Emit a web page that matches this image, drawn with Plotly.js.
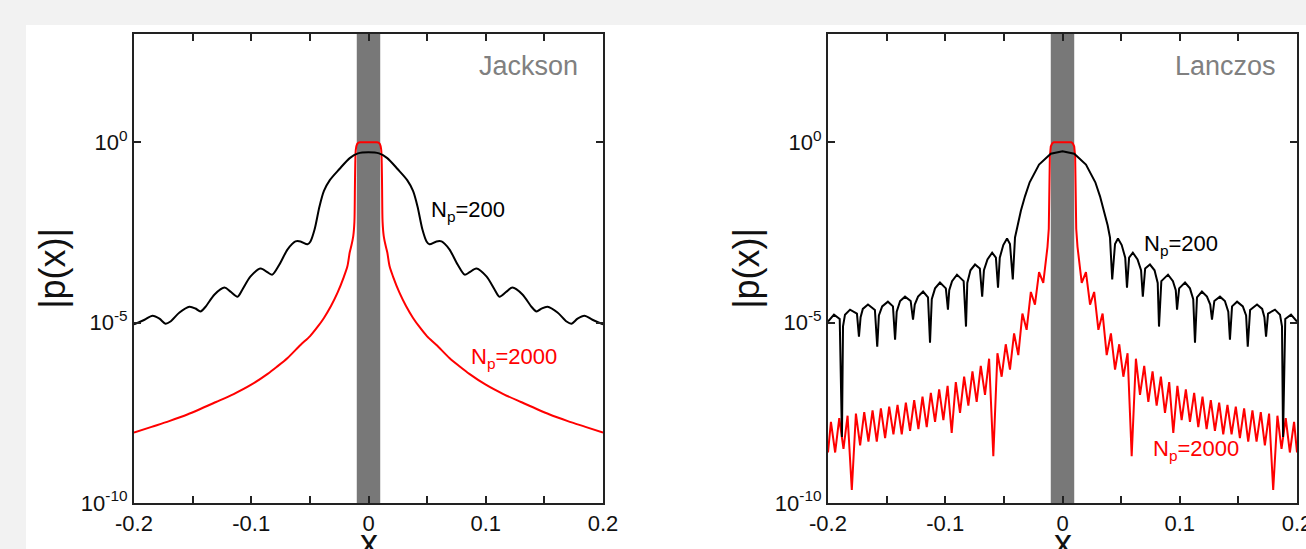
<!DOCTYPE html>
<html><head><meta charset="utf-8">
<script src="https://cdn.plot.ly/plotly-3.0.1.min.js"></script>
<style>
html,body{margin:0;padding:0;background:#f2f2f2;width:1306px;height:549px;overflow:hidden;}
#plot{position:absolute;left:26px;top:25px;width:1280px;height:524px;background:#fff;}
</style></head>
<body><div id="plot"></div>
<script>
// ---- data (right half, x >= 0; curves are symmetric about x = 0), values are log10 |p(x)|
const jacksonX200 = [0, 0.009, 0.016, 0.025, 0.033, 0.038, 0.0418, 0.046, 0.0495, 0.052, 0.058, 0.0623, 0.069, 0.076, 0.082, 0.086, 0.092, 0.1006, 0.1075, 0.1117, 0.1177, 0.1228, 0.1313, 0.139, 0.1433, 0.1475, 0.1527, 0.1612, 0.1689, 0.1731, 0.1783, 0.1842, 0.191, 0.2];
const jacksonLog200 = [-0.28, -0.31, -0.44, -0.75, -1.05, -1.35, -1.78, -2.42, -2.75, -2.83, -2.75, -2.75, -2.97, -3.39, -3.67, -3.61, -3.5, -3.72, -4.08, -4.28, -4.14, -4.03, -4.22, -4.56, -4.69, -4.61, -4.56, -4.72, -4.97, -5.03, -4.89, -4.81, -4.92, -5.05];

const jacksonX2000 = [0, 0.007, 0.0085, 0.0097, 0.0108, 0.0113, 0.0116, 0.012, 0.013, 0.0145, 0.016, 0.018, 0.021, 0.0264, 0.032, 0.038, 0.0435, 0.05, 0.058, 0.069, 0.078, 0.086, 0.1, 0.115, 0.13, 0.154, 0.17, 0.185, 0.2];
const jacksonLog2000 = [0, 0, -0.01, -0.05, -0.2, -0.6, -1.3, -2.2, -2.6, -2.85, -3.05, -3.44, -3.73, -4.17, -4.54, -4.87, -5.12, -5.38, -5.62, -5.98, -6.22, -6.42, -6.72, -6.98, -7.2, -7.54, -7.73, -7.89, -8.05];

const lanczosX200 = [0, 0.01, 0.02, 0.028, 0.032, 0.0355, 0.0385, 0.0405, 0.0424,
  0.0448, 0.0473, 0.0505, 0.0535, 0.055,
  0.0568, 0.06, 0.064, 0.067, 0.0685,
  0.0705, 0.0746, 0.0785, 0.0812, 0.0823,
  0.0843, 0.09, 0.0942, 0.0966, 0.0977,
  0.0995, 0.1045, 0.1087, 0.1115, 0.113,
  0.1147, 0.1189, 0.1232, 0.126, 0.1275,
  0.1295, 0.1343, 0.1385, 0.1414, 0.1428,
  0.1446, 0.1489, 0.1538, 0.1566, 0.158,
  0.16, 0.1659, 0.1703, 0.1722, 0.1736,
  0.1753, 0.1812, 0.1855, 0.1872, 0.1881,
  0.19, 0.1949, 0.2];
const lanczosLog200 = [-0.25, -0.32, -0.62, -1.11, -1.5, -1.9, -2.3, -2.64, -3.8,
  -2.82, -2.67, -2.85, -3.2, -4.03,
  -3.2, -3.06, -3.25, -3.55, -4.28,
  -3.5, -3.39, -3.55, -3.9, -5.11,
  -3.85, -3.67, -3.85, -4.1, -4.64,
  -4.05, -3.89, -4.05, -4.35, -5.56,
  -4.3, -4.14, -4.28, -4.5, -4.92,
  -4.4, -4.28, -4.4, -4.7, -5.47,
  -4.55, -4.42, -4.55, -4.8, -5.67,
  -4.65, -4.5, -4.62, -4.85, -5.39,
  -4.75, -4.64, -4.78, -5.1, -8.17,
  -4.9, -4.78, -4.97];

const lanczosX2000 = [0, 0.0075, 0.0088, 0.01, 0.0108, 0.0112, 0.0117, 0.0128,
  0.0164, 0.02, 0.0235, 0.027, 0.0306, 0.0342, 0.0377, 0.0413, 0.0448, 0.0484, 0.0519, 0.0555,
  0.059, 0.0626, 0.0661, 0.0697, 0.0732, 0.0768, 0.0803, 0.0839, 0.0874, 0.091,
  0.0945, 0.098, 0.1016, 0.1052, 0.1087, 0.1123, 0.1158, 0.1194, 0.1229, 0.1265,
  0.13, 0.1336, 0.1371, 0.1407, 0.1442, 0.1478, 0.1513, 0.1549, 0.1584, 0.162,
  0.1655, 0.1691, 0.1726, 0.1762, 0.1797, 0.1833, 0.1868, 0.1904, 0.1939, 0.1975, 0.2];
const lanczosLog2000 = [0, 0, -0.03, -0.12, -0.4, -1.2, -2.4, -2.9,
  -3.9, -3.6, -4.5, -4.15, -5.2, -4.75, -5.9, -5.3, -6.3, -5.6, -6.5, -5.85,
  -8.7, -6.0, -7.0, -6.2, -7.2, -6.35, -7.3, -6.5, -7.5, -6.65,
  -8.06, -6.75, -7.7, -6.85, -7.75, -6.95, -7.9, -7.05, -7.95, -7.15,
  -8.0, -7.22, -8.1, -7.28, -8.1, -7.33, -8.2, -7.38, -8.3, -7.43,
  -8.3, -7.48, -8.4, -7.52, -9.64, -7.58, -8.5, -7.65, -8.6, -7.75, -8.6];

const xTickVals = [-0.2, -0.1, 0, 0.1, 0.2];
const xTickText = ['-0.2', '-0.1', '0', '0.1', '0.2'];
const xMinorStep = 0.05;
const yTickVals = [1e-10, 1e-5, 1];
const yTickText = ['10<sup>-10</sup>', '10<sup>-5</sup>', '10<sup>0</sup>'];
const windowHalfWidth = 0.01;
const panelNames = ['Jackson', 'Lanczos'];
const labelSmall = 'N<sub>p</sub>=200';
const labelLarge = 'N<sub>p</sub>=2000';
const xTitle = 'x';
const yTitle = '|p(x)|';

// ---- build symmetric curves from the half-data
function mirrorX(h){ return h.slice(1).reverse().map(v => -v).concat(h); }
function mirrorY(h){ return h.slice(1).reverse().concat(h).map(v => Math.pow(10, v)); }

const FONT = 'Liberation Sans, Arial, Helvetica, sans-serif';
const AX = '#222';

function tr(xh, yh, color, xa, ya, shape){
  return {x: mirrorX(xh), y: mirrorY(yh), type:'scatter', mode:'lines',
    line:{color:color, width:2, shape:shape, smoothing:0.8}, xaxis:xa, yaxis:ya, hoverinfo:'skip'};
}
const data = [
  tr(jacksonX2000, jacksonLog2000, '#ff0000', 'x', 'y', 'spline'),
  tr(jacksonX200, jacksonLog200, '#000000', 'x', 'y', 'spline'),
  tr(lanczosX2000, lanczosLog2000, '#ff0000', 'x2', 'y2', 'linear'),
  tr(lanczosX200, lanczosLog200, '#000000', 'x2', 'y2', 'linear')
];

function xax(domain, anchor){
  return {domain:domain, anchor:anchor, range:[-0.2,0.2], tickmode:'array', tickvals:xTickVals, ticktext:xTickText,
    ticks:'inside', ticklen:7, tickwidth:2, tickcolor:AX, showline:true, linewidth:2, linecolor:AX, mirror:'ticks',
    minor:{tick0:0, dtick:xMinorStep, ticks:'inside', ticklen:7, tickwidth:2, tickcolor:AX, showgrid:false},
    showgrid:false, zeroline:false, ticklabeloverflow:'allow',
    tickfont:{family:FONT, size:22, color:'#111'}};
}
function yax(anchor){
  return {domain:[0.08779, 0.98282], anchor:anchor, type:'log', range:[-10,3], tickmode:'array', tickvals:yTickVals, ticktext:yTickText,
    ticks:'inside', ticklen:7, tickwidth:2, tickcolor:AX, showline:true, linewidth:2, linecolor:AX, mirror:'ticks',
    showgrid:false, zeroline:false, ticklabeloverflow:'allow',
    tickfont:{family:FONT, size:22, color:'#111'},
    title:{text:yTitle, font:{family:FONT, size:36, color:'#111'}, standoff:4}};
}

function band(xr, yr){
  return {type:'rect', xref:xr, yref:yr + ' domain', x0:-windowHalfWidth, x1:windowHalfWidth, y0:0, y1:1,
    fillcolor:'#787878', line:{width:0}, layer:'below'};
}

function ann(text, xr, yr, x, y, xanchor, size, color, yanchor){
  return {text:text, xref:xr, yref:yr + ' domain', x:x, y:y, xanchor:xanchor, yanchor:yanchor || 'middle',
    showarrow:false, font:{family:FONT, size:size, color:color}};
}

const layout = {
  width:1280, height:524, margin:{l:0, r:0, t:0, b:0},
  paper_bgcolor:'#ffffff', plot_bgcolor:'#ffffff', showlegend:false,
  xaxis: xax([0.084375, 0.450781], 'y'),
  yaxis: yax('x'),
  xaxis2: xax([0.626563, 0.992969], 'y2'),
  yaxis2: yax('x2'),
  shapes:[band('x','y'), band('x2','y2')],
  annotations:[
    ann(panelNames[0], 'x', 'y', 0.1808, 0.932, 'right', 27, '#808080'),
    ann(panelNames[1], 'x2', 'y2', 0.1838, 0.932, 'right', 27, '#808080'),
    ann(labelSmall, 'x', 'y', 0.052, 0.6226, 'left', 22, '#000000'),
    ann(labelLarge, 'x', 'y', 0.0861, 0.309, 'left', 22, '#ff0000'),
    ann(labelSmall, 'x2', 'y2', 0.0678, 0.550, 'left', 22, '#000000'),
    ann(labelLarge, 'x2', 'y2', 0.0755, 0.114, 'left', 22, '#ff0000'),
    ann(xTitle, 'x', 'y', 0, -0.036, 'center', 36, '#111', 'top'),
    ann(xTitle, 'x2', 'y2', 0, -0.036, 'center', 36, '#111', 'top')
  ]
};

Plotly.newPlot('plot', data, layout, {staticPlot:true, displayModeBar:false});
</script></body></html>
